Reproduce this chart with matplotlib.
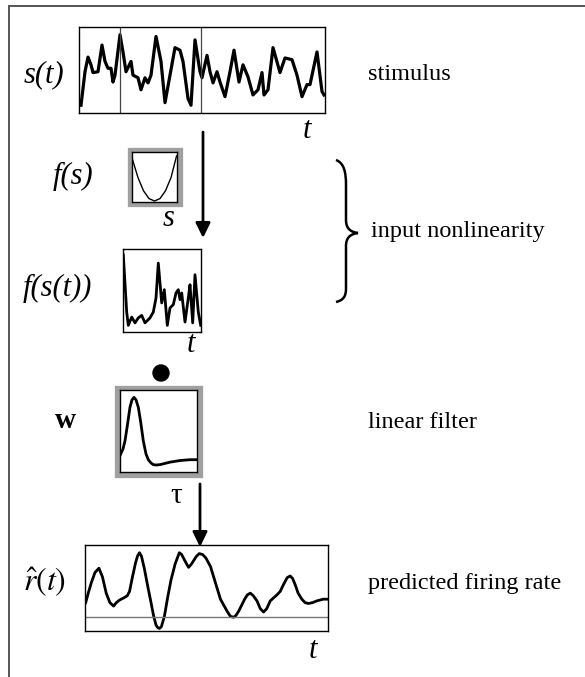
import numpy as np
import matplotlib
matplotlib.use("Agg")
import matplotlib.pyplot as plt
from matplotlib.patches import Rectangle, Circle, PathPatch
from matplotlib.path import Path

plt.rcParams['font.family'] = ['Liberation Serif', 'DejaVu Serif']
plt.rcParams['mathtext.fontset'] = 'stix'

# stimulus s(t)
stim_t = [2, 6, 9, 12, 14, 19, 23, 26, 29, 32, 34, 36, 41, 44, 47, 52, 54, 59, 62, 66,
          69, 72, 77, 82, 86, 91, 96, 101, 104, 109, 112, 116, 121, 123, 128, 131, 134,
          138, 141, 146, 151, 155, 160, 164, 169, 174, 179, 183, 185, 189, 194, 201,
          206, 213, 218, 223, 228, 231, 238, 243, 245]
stim_s = [0.09, 0.48, 0.65, 0.56, 0.47, 0.48, 0.79, 0.60, 0.52, 0.52, 0.36, 0.44, 0.91,
          0.71, 0.48, 0.60, 0.44, 0.41, 0.27, 0.41, 0.35, 0.44, 0.89, 0.60, 0.12, 0.44,
          0.76, 0.73, 0.60, 0.17, 0.09, 0.85, 0.48, 0.41, 0.67, 0.48, 0.35, 0.48, 0.36,
          0.19, 0.48, 0.73, 0.36, 0.56, 0.42, 0.21, 0.27, 0.47, 0.21, 0.27, 0.76, 0.47,
          0.64, 0.62, 0.44, 0.19, 0.33, 0.33, 0.71, 0.25, 0.21]
stim_marks = [41, 122]

# input nonlinearity f(s)
fs_s = [-1, -0.75, -0.5, -0.25, 0, 0.25, 0.5, 0.75, 1]
fs_f = [0.85, 0.48, 0.21, 0.05, 0, 0.05, 0.21, 0.48, 0.92]

# f(s(t))
fst_t = [0.3, 3.7, 5.3, 8.7, 12, 15.3, 18.7, 22, 27, 30.3, 33, 35.3, 38.7, 41.3, 44.3,
         47, 50.3, 53, 55.3, 57, 58.7, 62, 65.3, 67, 69.7, 72, 75.3, 77.7]
fst_v = [0.93, 0.24, 0.08, 0.18, 0.11, 0.17, 0.20, 0.11, 0.17, 0.24, 0.41, 0.83, 0.35,
         0.51, 0.08, 0.29, 0.33, 0.47, 0.51, 0.39, 0.47, 0.12, 0.41, 0.57, 0.11, 0.69,
         0.24, 0.08]

# linear filter w(tau)
w_tau = [0, 3, 5, 7.5, 10, 12, 14, 16, 18.3, 20.8, 23.3, 26, 28.3, 31, 33.3, 36, 40,
         45, 50, 60, 70, 76]
w_val = [0.20, 0.28, 0.38, 0.58, 0.79, 0.88, 0.91, 0.88, 0.79, 0.60, 0.38, 0.22, 0.15,
         0.11, 0.09, 0.085, 0.09, 0.105, 0.12, 0.14, 0.15, 0.15]

# predicted firing rate
r_t = [0.7, 3.5, 6.3, 10, 14, 17.5, 21.3, 25, 28.7, 31.5, 34.7, 39.7, 42.5, 44.7, 47.5,
       50.7, 52.7, 54.7, 56.7, 59.7, 63, 66.3, 69, 71.3, 73, 74.7, 76.7, 79.7, 83, 86.3,
       90.5, 94.7, 97, 99.7, 102, 104, 107, 109.7, 112, 114.7, 118, 121.3, 126, 131, 136,
       142.7, 146, 149.3, 151.5, 154.3, 160.3, 163, 166, 169, 172.7, 176, 179.3, 182.5,
       186, 192.7, 196, 199.3, 203, 206, 208.5, 211, 214, 217.7, 221, 224.3, 228.5,
       232.7, 239.3, 244.3]
r_v = [0.33, 0.45, 0.56, 0.68, 0.73, 0.63, 0.44, 0.33, 0.29, 0.33, 0.36, 0.39, 0.41,
       0.46, 0.62, 0.79, 0.87, 0.91, 0.87, 0.72, 0.52, 0.33, 0.17, 0.07, 0.04, 0.03, 0.05,
       0.17, 0.39, 0.59, 0.78, 0.91, 0.89, 0.83, 0.78, 0.74, 0.78, 0.83, 0.87, 0.90, 0.89,
       0.85, 0.75, 0.56, 0.37, 0.23, 0.17, 0.16, 0.18, 0.23, 0.37, 0.42, 0.44, 0.41, 0.35,
       0.26, 0.22, 0.26, 0.35, 0.42, 0.46, 0.54, 0.62, 0.64, 0.61, 0.54, 0.44, 0.37, 0.33,
       0.32, 0.33, 0.35, 0.37, 0.37]
r_base = 0.16

W, H = 585, 677
fig = plt.figure(figsize=(W / 100, H / 100), dpi=100)

# overlay for text, arrows and frames (pixel coordinates)
ov = fig.add_axes([0, 0, 1, 1])
ov.set_xlim(0, W)
ov.set_ylim(H, 0)
ov.axis('off')


def px_axes(x0, y0, x1, y1):
    ax = fig.add_axes([x0 / W, 1 - y1 / H, (x1 - x0) / W, (y1 - y0) / H])
    ax.set_xticks([])
    ax.set_yticks([])
    for sp in ax.spines.values():
        sp.set_linewidth(1.0)
    return ax


gray = '#a0a0a0'

# outer frame (left and top)
ov.plot([9, 9, W], [H, 5.5, 5.5], color='#555555', lw=1.4, solid_joinstyle='miter')

# stimulus panel
ax1 = px_axes(79, 27, 325, 113)
ax1.plot(stim_t, stim_s, color='k', lw=2.3, solid_joinstyle='round')
for m in stim_marks:
    ax1.axvline(m, color='#444444', lw=0.9)
ax1.set_xlim(0, 246)
ax1.set_ylim(0, 1)

# f(s) panel with gray frame
ov.add_patch(Rectangle((129.5, 150), 50, 54, fill=False, ec=gray, lw=3.8))
ax2 = px_axes(132, 152, 177, 202)
ax2.plot(fs_s, fs_f, color='k', lw=1.0)
ax2.set_xlim(-1.02, 1.02)
ax2.set_ylim(-0.02, 1)

# f(s(t)) panel
ax3 = px_axes(123, 249, 201, 332)
ax3.plot(fst_t, fst_v, color='k', lw=2.0, solid_joinstyle='round')
ax3.set_xlim(0, 78)
ax3.set_ylim(0, 1)

# filter panel with gray frame
ov.add_patch(Rectangle((117, 388), 82.5, 86.5, fill=False, ec=gray, lw=3.8))
ax4 = px_axes(120, 390, 197, 472)
ax4.plot(w_tau, w_val, color='k', lw=2.0, solid_joinstyle='round')
ax4.set_xlim(0, 77)
ax4.set_ylim(0, 1)

# predicted rate panel
ax5 = px_axes(85, 545, 328, 631)
ax5.plot(r_t, r_v, color='k', lw=2.0, solid_joinstyle='round')
ax5.axhline(r_base, color='#777777', lw=1.0)
ax5.set_xlim(0, 244)
ax5.set_ylim(0, 1)

# arrows
head = '-|>,head_length=0.45,head_width=0.22'
ov.annotate('', xy=(203, 238), xytext=(203, 132),
            arrowprops=dict(arrowstyle=head, lw=2.0, color='k', mutation_scale=20,
                            shrinkA=0, shrinkB=0))
ov.annotate('', xy=(200, 547), xytext=(200, 484),
            arrowprops=dict(arrowstyle=head, lw=2.0, color='k', mutation_scale=20,
                            shrinkA=0, shrinkB=0))

# dot (convolution)
ov.add_patch(Circle((161, 373), 8, color='k'))

# brace
verts = [(336, 160), (344, 163), (346, 172), (346, 185),
         (346, 220),
         (346, 228), (350, 232), (358, 233),
         (350, 234), (346, 238), (346, 246),
         (346, 288),
         (346, 296), (344, 300), (336, 302)]
codes = [Path.MOVETO, Path.CURVE4, Path.CURVE4, Path.CURVE4,
         Path.LINETO,
         Path.CURVE4, Path.CURVE4, Path.CURVE4,
         Path.CURVE4, Path.CURVE4, Path.CURVE4,
         Path.LINETO,
         Path.CURVE4, Path.CURVE4, Path.CURVE4]
ov.add_patch(PathPatch(Path(verts, codes), fill=False, lw=1.8, ec='k'))

# labels
lab = dict(fontsize=22, style='italic', ha='center', va='center')
ov.text(44, 75, 's(t)', **lab)
ov.text(307, 130, 't', **lab)
ov.text(73, 176, 'f(s)', **lab)
ov.text(169, 219, 's', **lab)
ov.text(57, 288, 'f(s(t))', **lab)
ov.text(191, 345, 't', **lab)
ov.text(65, 421, 'w', fontsize=21, weight='bold', ha='center', va='center')
ov.text(176, 496, 'τ', fontsize=21, ha='center', va='center')
ov.text(45, 582, r'$\hat{r}(t)$', fontsize=23, ha='center', va='center')
ov.text(313, 650, 't', **lab)

side = dict(fontsize=17.5, ha='left', va='center')
ov.text(368, 75, 'stimulus', **side)
ov.text(371, 232, 'input nonlinearity', **side)
ov.text(368, 423, 'linear filter', **side)
ov.text(368, 583, 'predicted firing rate', **side)

fig.savefig('out.png', dpi=100)
